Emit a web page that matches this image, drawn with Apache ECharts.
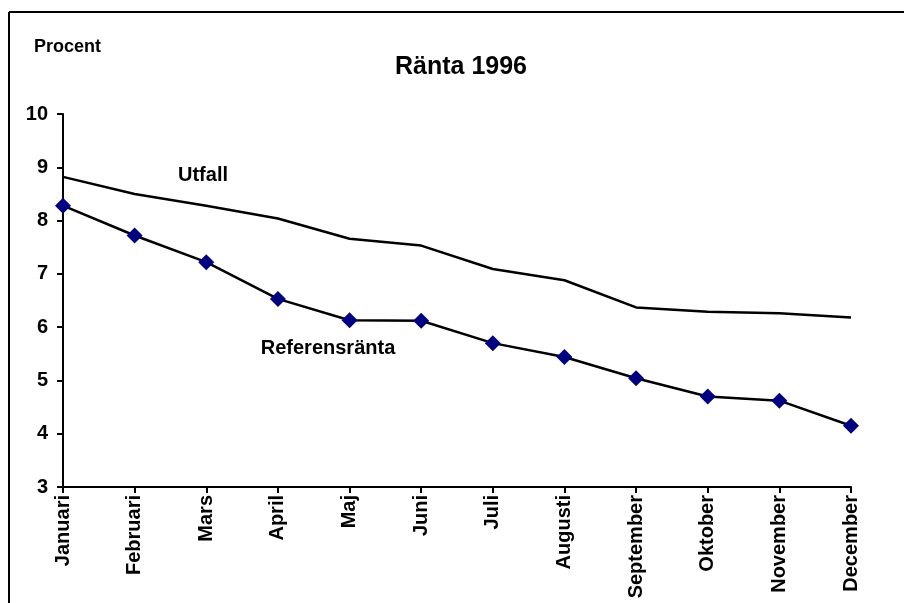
<!DOCTYPE html>
<html>
<head>
<meta charset="utf-8">
<title>Ränta 1996</title>
<script src="https://cdn.jsdelivr.net/npm/echarts@6/dist/echarts.min.js"></script>
<style>
  html, body { margin: 0; padding: 0; background: #ffffff; }
  #chart { width: 904px; height: 603px; }
</style>
</head>
<body>
<div id="chart"></div>
<script>
// Months of 1996
const months = ['Januari', 'Februari', 'Mars', 'April', 'Maj', 'Juni', 'Juli',
  'Augusti', 'September', 'Oktober', 'November', 'December'];

// Outcome interest rate (percent)
const utfall = [8.82, 8.50, 8.28, 8.04, 7.66, 7.53, 7.09, 6.88, 6.37, 6.29, 6.26, 6.18];

// Reference interest rate (percent)
const referensranta = [8.28, 7.72, 7.22, 6.53, 6.13, 6.12, 5.70, 5.44, 5.04, 4.70, 4.62, 4.15];

// Value axis ticks
const yTicks = { min: 3, max: 10, step: 1 };

const FONT = '"Liberation Sans", Arial, sans-serif';

const chart = echarts.init(document.getElementById('chart'), null, { renderer: 'canvas' });

chart.setOption({
  backgroundColor: '#ffffff',
  animation: false,
  grid: { left: 63, right: 53, top: 114, bottom: 116, containLabel: false },
  xAxis: {
    type: 'category',
    data: months,
    boundaryGap: false,
    axisLine: { lineStyle: { color: '#000', width: 2 } },
    axisTick: { show: true, length: 6, lineStyle: { color: '#000', width: 2 } },
    axisLabel: {
      rotate: 90, interval: 0, margin: 8,
      color: '#000', fontFamily: FONT, fontWeight: 'bold', fontSize: 20
    },
    splitLine: { show: false }
  },
  yAxis: {
    type: 'value',
    min: yTicks.min, max: yTicks.max, interval: yTicks.step,
    axisLine: { show: true, lineStyle: { color: '#000', width: 2 } },
    axisTick: { show: true, length: 6, lineStyle: { color: '#000', width: 2 } },
    axisLabel: {
      margin: 15, color: '#000', fontFamily: FONT, fontWeight: 'bold', fontSize: 20
    },
    splitLine: { show: false }
  },
  series: [
    {
      name: 'Utfall',
      type: 'line',
      data: utfall,
      showSymbol: false,
      symbol: 'none',
      lineStyle: { color: '#000', width: 2.5 },
      z: 2
    },
    {
      name: 'Referensränta',
      type: 'line',
      data: referensranta,
      symbol: 'diamond',
      symbolSize: 16,
      itemStyle: { color: '#000080', borderWidth: 0 },
      lineStyle: { color: '#000', width: 2.5 },
      z: 3
    }
  ],
  graphic: [
    // outer frame (top and left edges)
    { type: 'line', shape: { x1: 9, y1: 12, x2: 904, y2: 12 }, style: { stroke: '#000', lineWidth: 2 } },
    { type: 'line', shape: { x1: 9, y1: 12, x2: 9, y2: 603 }, style: { stroke: '#000', lineWidth: 2 } },
    {
      type: 'text', left: 34, top: 38,
      style: { text: 'Procent', fill: '#000', font: 'bold 18px ' + FONT }
    },
    {
      type: 'text', x: 461, y: 67,
      style: { text: 'Ränta 1996', fill: '#000', font: 'bold 25px ' + FONT, textAlign: 'center', textVerticalAlign: 'middle' }
    },
    {
      type: 'text', x: 203, y: 175,
      style: { text: 'Utfall', fill: '#000', font: 'bold 20px ' + FONT, textAlign: 'center', textVerticalAlign: 'middle' }
    },
    {
      type: 'text', x: 328, y: 348,
      style: { text: 'Referensränta', fill: '#000', font: 'bold 20px ' + FONT, textAlign: 'center', textVerticalAlign: 'middle' }
    }
  ]
});
</script>
</body>
</html>
